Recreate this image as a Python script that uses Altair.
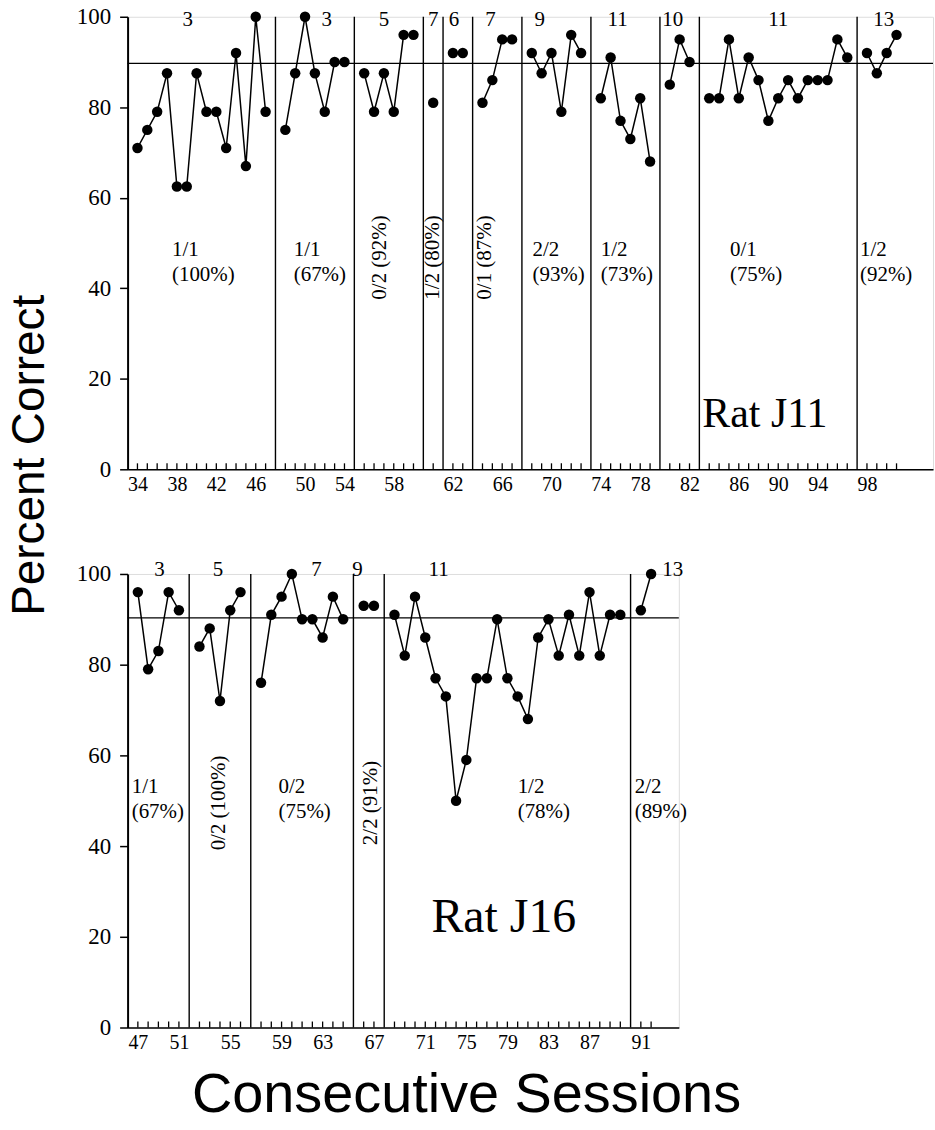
import altair as alt
import pandas as pd

# ---------------- data ----------------
# Rat J11: consecutive sessions starting at 34, grouped by phase
j11_first_session = 34
j11_phases = [
    [71, 75, 79, 87.5, 62.5, 62.5, 87.5, 79, 79, 71, 92, 67, 100, 79],
    [75, 87.5, 100, 87.5, 79, 90, 90],
    [87.5, 79, 87.5, 79, 96, 96],
    [81],
    [92, 92],
    [81, 86, 95, 95],
    [92, 87.5, 92, 79, 96, 92],
    [82, 91, 77, 73, 82, 68],
    [85, 95, 90],
    [82, 82, 95, 82, 91, 86, 77, 82, 86, 82, 86, 86, 86, 95, 91],
    [92, 87.5, 92, 96],
]
j11_criteria = ["3", "3", "5", "7", "6", "7", "9", "11", "10", "11", "13"]
j11_outcomes = [["1/1", "(100%)"], ["1/1", "(67%)"], "0/2 (92%)", "1/2 (80%)", None,
                "0/1 (87%)", ["2/2", "(93%)"], ["1/2", "(73%)"], None,
                ["0/1", "(75%)"], ["1/2", "(92%)"]]
j11_reference = 89.7
j11_name = "Rat J11"

# Rat J16: consecutive sessions starting at 47
j16_first_session = 47
j16_phases = [
    [96, 79, 83, 96, 92],
    [84, 88, 72, 92, 96],
    [76, 91, 95, 100, 90, 90, 86, 95, 90],
    [93, 93],
    [91, 82, 95, 86, 77, 73, 50, 59, 77, 77, 90, 77, 73, 68, 86, 90, 82, 91, 82,
     96, 82, 91, 91],
    [92, 100],
]
j16_criteria = ["3", "5", "7", "9", "11", "13"]
j16_outcomes = [["1/1", "(67%)"], "0/2 (100%)", ["0/2", "(75%)"], "2/2 (91%)",
                ["1/2", "(78%)"], ["2/2", "(89%)"]]
j16_reference = 90.3
j16_name = "Rat J16"

y_title = "Percent Correct"
x_title = "Consecutive Sessions"
label_every = 4

# ---------------- annotation placement (data units: sessions from phase start) ----
j11_crit_offsets = [5.1, 4.2, 2.0, 0, 0.1, 0.8, 0.8, 1.7, 0.3, 7, 1.7]
j11_out_offsets = [3.5, 0.85, 1.6, 0.0, None, 0.3, 0.07, 0.0, None, 2.1, -0.7]
j16_crit_offsets = [2.1, 1.8, 5.4, -0.6, 4.3, 3.1]
j16_out_offsets = [-0.6, 1.94, 1.7, 0.7, 12.0, -0.6]

SERIF = "Liberation Serif"
SANS = "Liberation Sans"


def layout(phases, first_session):
    """Sessions sit on consecutive slots; each phase change takes one slot."""
    pts, lines, starts = [], [], []
    slot, session = 0, first_session
    for i, vals in enumerate(phases):
        starts.append(slot)
        for v in vals:
            pts.append({"phase": i, "session": session, "slot": slot, "value": v})
            session += 1
            slot += 1
        if i < len(phases) - 1:
            lines.append({"slot": slot})
            slot += 1
    return pd.DataFrame(pts), pd.DataFrame(lines), starts


def panel(phases, first_session, criteria, crit_off, outcomes, out_off, reference,
          name, name_pos, x_max, width, height, crit_y, hy, rot_y, name_size,
          extra_title=None, extra_xtitle=None):
    pts, lines, starts = layout(phases, first_session)

    labelled = pts[(pts["session"] - first_session) % label_every == 0]
    expr = "''"
    for s, sess in zip(reversed(labelled["slot"].tolist()), reversed(labelled["session"].tolist())):
        expr = f"datum.value == {s} ? '{sess}' : ({expr})"

    xs = alt.Scale(domain=[-1, x_max], nice=False, zero=False)
    ys = alt.Scale(domain=[0, 100], nice=False, zero=False)
    X = alt.X("slot:Q", scale=xs,
              axis=alt.Axis(values=labelled["slot"].tolist(), labelExpr=expr, ticks=False,
                            title=None, grid=False, labelFont=SERIF, labelFontSize=20,
                            labelPadding=5, domainColor="black", domainWidth=1.5,
                            labelColor="black", labelFlush=False, labelOverlap=False))
    Y = alt.Y("value:Q", scale=ys,
              axis=alt.Axis(values=[0, 20, 40, 60, 80, 100], title=None, grid=False,
                            labelFont=SERIF, labelFontSize=23, labelPadding=9,
                            tickSize=8, tickWidth=1.5, tickColor="black",
                            domainColor="black", domainWidth=2, labelColor="black"))

    base = alt.Chart(pts)
    layers = []
    # phase-change lines
    layers.append(alt.Chart(lines).mark_rule(color="black", strokeWidth=1.4).encode(
        x=X, y=alt.datum(0, scale=ys), y2=alt.datum(100)))
    # criterion line
    layers.append(alt.Chart(pd.DataFrame({"value": [reference]})).mark_rule(
        color="black", strokeWidth=1.2).encode(y=Y, x=alt.value(0), x2=alt.value(width)))
    # session ticks (pointing inward)
    layers.append(base.mark_rule(color="black", strokeWidth=1.3).encode(
        x=X, y=alt.value(height), y2=alt.value(height - 6)))
    # data
    layers.append(base.mark_line(color="black", strokeWidth=1.5).encode(
        x=X, y=Y, detail="phase:N"))
    layers.append(base.mark_circle(color="black", opacity=1, size=110).encode(x=X, y=Y))

    # criterion numbers on top
    crit = pd.DataFrame({"slot": [starts[i] + crit_off[i] for i in range(len(criteria))],
                         "value": [crit_y] * len(criteria), "t": criteria})
    layers.append(alt.Chart(crit).mark_text(font=SERIF, fontSize=21, color="black",
                                            baseline="middle").encode(x=X, y=Y, text="t:N"))

    # outcome annotations
    hrows, rrows = [], []
    for i, o in enumerate(outcomes):
        if o is None:
            continue
        sx = starts[i] + out_off[i]
        if isinstance(o, list):
            hrows.append({"slot": sx, "value": hy[0], "t": o[0]})
            hrows.append({"slot": sx, "value": hy[1], "t": o[1]})
        else:
            rrows.append({"slot": sx, "value": rot_y, "t": o})
    layers.append(alt.Chart(pd.DataFrame(hrows)).mark_text(
        font=SERIF, fontSize=21, color="black", align="left", baseline="middle").encode(
        x=X, y=Y, text="t:N"))
    if rrows:
        layers.append(alt.Chart(pd.DataFrame(rrows)).mark_text(
            font=SERIF, fontSize=21, color="black", align="center", baseline="middle",
            angle=270).encode(x=X, y=Y, text="t:N"))

    # rat name
    nm = pd.DataFrame({"slot": [starts[name_pos[0]] + name_pos[1]], "value": [name_pos[2]],
                       "t": [name]})
    layers.append(alt.Chart(nm).mark_text(font=SERIF, fontSize=name_size, color="black",
                                          align="left", baseline="alphabetic").encode(
        x=X, y=Y, text="t:N"))

    if extra_title is not None:
        layers.append(alt.Chart(pd.DataFrame({"t": [extra_title[0]]})).mark_text(
            font=SANS, fontSize=46, color="black", angle=270, baseline="middle",
            align="center").encode(text="t:N", x=alt.value(extra_title[1]),
                                   y=alt.value(extra_title[2])))
    if extra_xtitle is not None:
        layers.append(alt.Chart(pd.DataFrame({"t": [extra_xtitle[0]]})).mark_text(
            font=SANS, fontSize=56, color="black", baseline="middle",
            align="center").encode(text="t:N", x=alt.value(extra_xtitle[1]),
                                   y=alt.value(extra_xtitle[2])))

    return alt.layer(*layers).properties(width=width, height=height)


top = panel(j11_phases, j11_first_session, j11_criteria, j11_crit_offsets, j11_outcomes,
            j11_out_offsets, j11_reference, j11_name, (9, -0.7, 9.3), 80.7, 808, 454,
            99.3, (48.5, 43.0), 46.8, 42, extra_title=(y_title, -98, 440))
bottom = panel(j16_phases, j16_first_session, j16_criteria, j16_crit_offsets, j16_outcomes,
               j16_out_offsets, j16_reference, j16_name, (4, 3.6, 21), 52.7, 553, 455,
               100.9, (53.0, 47.5), 49.5, 48, extra_xtitle=(x_title, 340, 523))

chart = alt.vconcat(top, bottom, spacing=105, bounds="flush").properties(
    padding={"left": 6, "top": 3, "right": 0, "bottom": 0}
).configure_view(stroke=None).configure(background="white")

chart.save("out.html", embed_options={"renderer": "svg", "actions": False})
